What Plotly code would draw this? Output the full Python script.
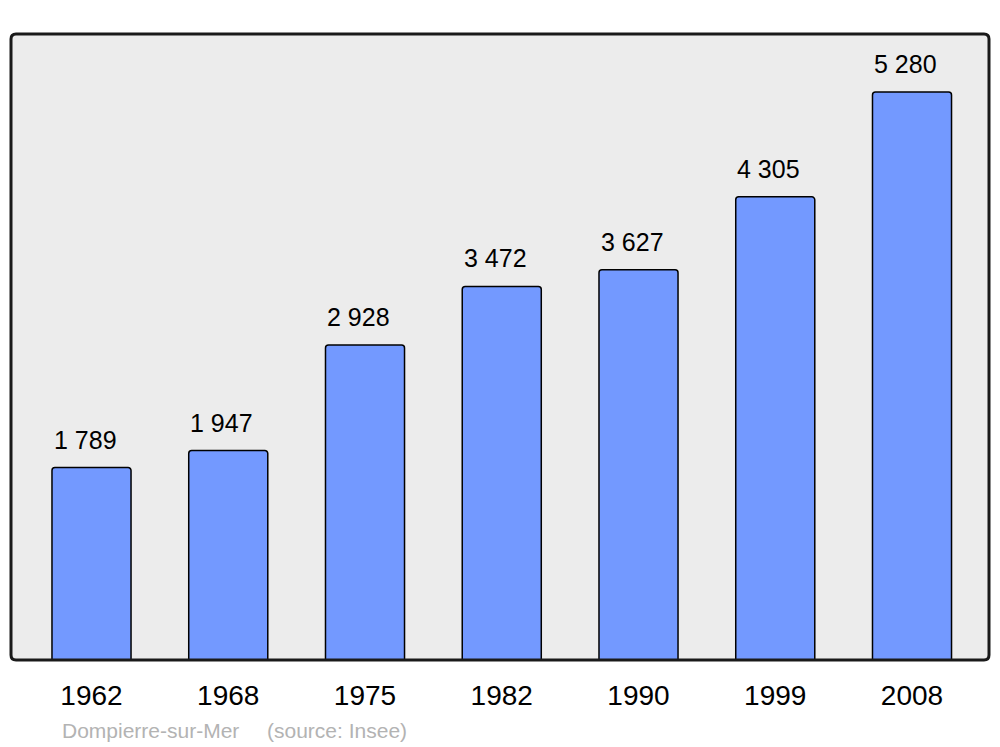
import plotly.graph_objects as go

years = ["1962", "1968", "1975", "1982", "1990", "1999", "2008"]
population = [1789, 1947, 2928, 3472, 3627, 4305, 5280]
labels = ["1 789", "1 947", "2 928", "3 472", "3 627", "4 305", "5 280"]
commune = "Dompierre-sur-Mer"
source = "(source: Insee)"

W, H = 1000, 747
pl, pr, pt, pb = 11, 989, 34, 660  # plot area in page px
ml, mt = pl, pt
pw, ph = pr - pl, pb - pt
mr, mb = W - ml - pw, H - mt - ph

FONT = "Liberation Sans, Arial, sans-serif"
BAR_W = 0.578

fig = go.Figure()
fig.add_trace(go.Bar(
    x=years, y=population, width=BAR_W,
    marker=dict(color="#7399ff", line=dict(color="#000000", width=1.5), cornerradius=3),
    hoverinfo="skip",
))

for i, (v, t) in enumerate(zip(population, labels)):
    fig.add_annotation(x=i, y=v, xref="x", yref="y", text=t, showarrow=False,
                       xanchor="left", yanchor="middle", xshift=-40, yshift=28,
                       font=dict(family=FONT, size=25, color="#000000"))

def rounded_path(r_px):
    rx = r_px / pw
    ry = r_px / ph
    return (f"M {rx},0 L {1-rx},0 Q 1,0 1,{ry} L 1,{1-ry} Q 1,1 {1-rx},1 "
            f"L {rx},1 Q 0,1 0,{1-ry} L 0,{ry} Q 0,0 {rx},0 Z")

fig.add_shape(type="path", xref="paper", yref="paper", path=rounded_path(5),
              fillcolor="#ececec", line=dict(width=0), layer="below")
fig.add_shape(type="path", xref="paper", yref="paper", path=rounded_path(5),
              fillcolor="rgba(0,0,0,0)", line=dict(color="#1a1a1a", width=3), layer="above")

fy = (pb - 730) / ph
fig.add_annotation(xref="paper", yref="paper", x=(60 - pl) / pw, y=fy,
                   xanchor="left", yanchor="middle", text=commune, showarrow=False,
                   font=dict(family=FONT, size=21, color="#b3b3b3"))
fig.add_annotation(xref="paper", yref="paper", x=(265 - pl) / pw, y=fy,
                   xanchor="left", yanchor="middle", text=source, showarrow=False,
                   font=dict(family=FONT, size=21, color="#b3b3b3"))

fig.update_layout(
    width=W, height=H,
    margin=dict(l=ml, r=mr, t=mt, b=mb, pad=0),
    paper_bgcolor="#ffffff", plot_bgcolor="#ffffff",
    showlegend=False,
    xaxis=dict(type="category", range=[-0.5887, 6.563], showgrid=False, zeroline=False,
               showline=False, ticks="outside", ticklen=10, tickcolor="rgba(0,0,0,0)",
               tickfont=dict(family=FONT, size=28, color="#000000")),
    yaxis=dict(range=[0, 5818], showgrid=False, zeroline=False, showline=False,
               showticklabels=False, ticks=""),
)

fig.write_html("out.html", config={"displayModeBar": False},
               post_script="document.body.style.margin='0';document.body.style.overflow='hidden';")
